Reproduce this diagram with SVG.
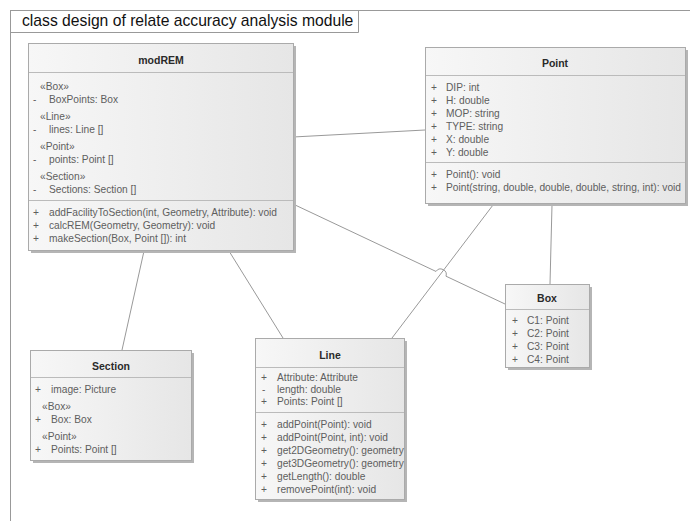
<svg xmlns="http://www.w3.org/2000/svg" width="694" height="521" viewBox="0 0 694 521">
<defs>
<linearGradient id="bg" x1="0" y1="0" x2="1" y2="0">
<stop offset="0" stop-color="#f7f7f7"/>
<stop offset="1" stop-color="#e6e6e6"/>
</linearGradient>
</defs>
<style>
.frame{fill:none;stroke:#999;stroke-width:1}
.title{font-family:"Liberation Sans",Arial,sans-serif;font-size:15.7px;fill:#111}
.shadow{fill:#b5b5b5}
.box{fill:url(#bg);stroke:#aaa;stroke-width:1}
.sep{stroke:#bbb;stroke-width:1}
.hd{font-family:"Liberation Sans",Arial,sans-serif;font-size:10.5px;font-weight:bold;fill:#2a2a2a;text-anchor:middle}
.t{font-family:"Liberation Sans",Arial,sans-serif;font-size:10.2px;fill:#5e5e5e}
.conn{fill:none;stroke:#999;stroke-width:1}
</style>
<rect width="694" height="521" fill="#fff"/>
<g id="frame">
<path class="frame" d="M10,10.5 H690 M10.5,10 V521 M10,32.5 H358.5 V10"/>
<text class="title" x="22" y="26">class design of relate accuracy analysis module</text>
</g>
<g id="connectors">
<path class="conn" d="M293,137 L425,130"/>
<path class="conn" d="M293,204 L436,271.45 A5.6 5.6 0 0 1 446,276.2 L505,304"/>
<path class="conn" d="M493,205 L392,338"/>
<path class="conn" d="M552,205 L550,284"/>
<path class="conn" d="M144,251 L122,350"/>
<path class="conn" d="M229,251 L283,338"/>
</g>
<g id="modREM">
<rect class="shadow" x="31" y="46" width="265" height="207"/>
<rect class="box" x="28.5" y="43.5" width="265" height="207"/>
<line class="sep" x1="29" y1="72.5" x2="293" y2="72.5"/>
<line class="sep" x1="29" y1="200.5" x2="293" y2="200.5"/>
<text class="hd" x="161" y="64">modREM</text>
<text class="t" x="40" y="90">«Box»</text>
<text class="t" x="33" y="103">-</text><text class="t" x="49" y="103">BoxPoints: Box</text>
<text class="t" x="40" y="120">«Line»</text>
<text class="t" x="33" y="133">-</text><text class="t" x="49" y="133">lines: Line []</text>
<text class="t" x="40" y="150">«Point»</text>
<text class="t" x="33" y="163">-</text><text class="t" x="49" y="163">points: Point []</text>
<text class="t" x="40" y="180">«Section»</text>
<text class="t" x="33" y="193">-</text><text class="t" x="49" y="193">Sections: Section []</text>
<text class="t" x="33" y="216">+</text><text class="t" x="49" y="216">addFacilityToSection(int, Geometry, Attribute): void</text>
<text class="t" x="33" y="229">+</text><text class="t" x="49" y="229">calcREM(Geometry, Geometry): void</text>
<text class="t" x="33" y="242">+</text><text class="t" x="49" y="242">makeSection(Box, Point []): int</text>
</g>
<g id="Point">
<rect class="shadow" x="428" y="50" width="260" height="156"/>
<rect class="box" x="425.5" y="47.5" width="260" height="156"/>
<line class="sep" x1="426" y1="75.5" x2="685" y2="75.5"/>
<line class="sep" x1="426" y1="162.5" x2="685" y2="162.5"/>
<text class="hd" x="555" y="67">Point</text>
<text class="t" x="431" y="91">+</text><text class="t" x="446" y="91">DIP: int</text>
<text class="t" x="431" y="104">+</text><text class="t" x="446" y="104">H: double</text>
<text class="t" x="431" y="117">+</text><text class="t" x="446" y="117">MOP: string</text>
<text class="t" x="431" y="130">+</text><text class="t" x="446" y="130">TYPE: string</text>
<text class="t" x="431" y="143">+</text><text class="t" x="446" y="143">X: double</text>
<text class="t" x="431" y="156">+</text><text class="t" x="446" y="156">Y: double</text>
<text class="t" x="431" y="178">+</text><text class="t" x="446" y="178">Point(): void</text>
<text class="t" x="431" y="191">+</text><text class="t" x="446" y="191">Point(string, double, double, double, string, int): void</text>
</g>
<g id="Box">
<rect class="shadow" x="508" y="287" width="84" height="83"/>
<rect class="box" x="505.5" y="284.5" width="84" height="83"/>
<line class="sep" x1="506" y1="309.5" x2="589" y2="309.5"/>
<text class="hd" x="547" y="302">Box</text>
<text class="t" x="512" y="324">+</text><text class="t" x="527" y="324">C1: Point</text>
<text class="t" x="512" y="337">+</text><text class="t" x="527" y="337">C2: Point</text>
<text class="t" x="512" y="350">+</text><text class="t" x="527" y="350">C3: Point</text>
<text class="t" x="512" y="363">+</text><text class="t" x="527" y="363">C4: Point</text>
</g>
<g id="Section">
<rect class="shadow" x="33" y="353" width="161" height="110"/>
<rect class="box" x="30.5" y="350.5" width="161" height="110"/>
<line class="sep" x1="31" y1="377.5" x2="191" y2="377.5"/>
<text class="hd" x="111" y="370">Section</text>
<text class="t" x="35" y="393">+</text><text class="t" x="51" y="393">image: Picture</text>
<text class="t" x="42" y="410">«Box»</text>
<text class="t" x="35" y="423">+</text><text class="t" x="51" y="423">Box: Box</text>
<text class="t" x="42" y="440">«Point»</text>
<text class="t" x="35" y="453">+</text><text class="t" x="51" y="453">Points: Point []</text>
</g>
<g id="Line">
<rect class="shadow" x="258" y="341" width="149" height="161"/>
<rect class="box" x="255.5" y="338.5" width="149" height="161"/>
<line class="sep" x1="256" y1="367.5" x2="404" y2="367.5"/>
<line class="sep" x1="256" y1="412.5" x2="404" y2="412.5"/>
<text class="hd" x="330" y="359">Line</text>
<text class="t" x="261" y="381">+</text><text class="t" x="277" y="381">Attribute: Attribute</text>
<text class="t" x="262" y="393">-</text><text class="t" x="277" y="393">length: double</text>
<text class="t" x="261" y="405">+</text><text class="t" x="277" y="405">Points: Point []</text>
<text class="t" x="261" y="428">+</text><text class="t" x="277" y="428">addPoint(Point): void</text>
<text class="t" x="261" y="441">+</text><text class="t" x="277" y="441">addPoint(Point, int): void</text>
<text class="t" x="261" y="454">+</text><text class="t" x="277" y="454">get2DGeometry(): geometry</text>
<text class="t" x="261" y="467">+</text><text class="t" x="277" y="467">get3DGeometry(): geometry</text>
<text class="t" x="261" y="480">+</text><text class="t" x="277" y="480">getLength(): double</text>
<text class="t" x="261" y="493">+</text><text class="t" x="277" y="493">removePoint(int): void</text>
</g>
</svg>
